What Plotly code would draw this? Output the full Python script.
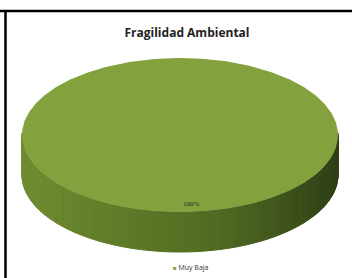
import numpy as np
import plotly.graph_objects as go

# ---- data ----
categories = ["Muy Baja"]
values = [100]
pct_labels = ["100%"]
colors = ["#83a13d"]

# ---- layout geometry (axis units == pixels) ----
W, H = 352, 278
CX, CY = 180, 135      # centre of the top face
RX, RY = 158, 77       # ellipse radii
DEPTH = 40             # thickness of the 3D disc


def mix(c1, c2, f):
    a = [int(c1[i:i + 2], 16) for i in (1, 3, 5)]
    b = [int(c2[i:i + 2], 16) for i in (1, 3, 5)]
    return "#" + "".join(f"{int(round(a[k] + (b[k] - a[k]) * f)):02x}" for k in range(3))


def pt(t, dy=0.0):
    return CX + RX * np.cos(t), CY - RY * np.sin(t) + dy


fig = go.Figure()

total = float(sum(values))
start = np.pi / 2
slices = []
for cat, v, col in zip(categories, values, colors):
    sweep = 2 * np.pi * v / total
    slices.append((cat, start, start - sweep, col))  # clockwise from 12 o'clock
    start -= sweep

# side walls (front half only), shaded left -> right
for cat, a0, a1, col in slices:
    ts = np.linspace(a0, a1, 241)
    for i in range(len(ts) - 1):
        tm = 0.5 * (ts[i] + ts[i + 1])
        if np.sin(tm) > 0.02:
            continue
        x0, y0 = pt(ts[i])
        x1, y1 = pt(ts[i + 1])
        f = (np.cos(tm) + 1) / 2  # 0 at left, 1 at right
        if f < 0.5:
            c = mix("#6f8c30", "#557124", f / 0.5)
        else:
            c = mix("#557124", "#2e3e15", ((f - 0.5) / 0.5) ** 1.3)
        fig.add_trace(go.Scatter(
            x=[x0, x1, x1, x0, x0], y=[y0, y1, y1 + DEPTH, y0 + DEPTH, y0],
            mode="lines", fill="toself", fillcolor=c,
            line=dict(color=c, width=1), showlegend=False, hoverinfo="skip"))

# top faces
for cat, a0, a1, col in slices:
    ts = np.linspace(a0, a1, 361)
    xs, ys = pt(ts)
    if abs(a0 - a1) < 2 * np.pi - 1e-9:
        xs = np.concatenate([[CX], xs, [CX]])
        ys = np.concatenate([[CY], ys, [CY]])
    fig.add_trace(go.Scatter(
        x=xs, y=ys, mode="lines", fill="toself", fillcolor=col,
        line=dict(color=col, width=0), name=cat, showlegend=False,
        hoverinfo="skip"))

# percentage labels
for (cat, a0, a1, col), lab in zip(slices, pct_labels):
    fig.add_annotation(x=191, y=204, text=lab, showarrow=False,
                       font=dict(family="Liberation Serif", size=7, color="#2a2a2a"))

# legend (bottom centre)
for cat, col in zip(categories, colors):
    fig.add_annotation(
        x=191, y=267, xanchor="center", yanchor="middle", showarrow=False,
        text=f"<span style='color:{col}; font-size:6px'>■</span> {cat}",
        font=dict(family="Open Sans", size=7, color="#333333"))

fig.update_layout(
    width=W, height=H,
    margin=dict(l=0, r=0, t=0, b=0),
    paper_bgcolor="#ffffff", plot_bgcolor="#ffffff",
    xaxis=dict(range=[0, W], visible=False, fixedrange=True),
    yaxis=dict(range=[H, 0], visible=False, fixedrange=True),
    title=dict(text="<b>Fragilidad Ambiental</b>", x=187 / W, xanchor="center",
               y=1 - 33 / H, yanchor="middle",
               font=dict(family="Open Sans", size=12, color="#222222")),
    showlegend=False,
    hovermode=False,
    shapes=[
        dict(type="line", xref="paper", yref="paper", x0=0, x1=1, y0=1 - 11 / H, y1=1 - 11 / H,
             line=dict(color="black", width=2.5)),
        dict(type="line", xref="paper", yref="paper", x0=5.5 / W, x1=5.5 / W, y0=0, y1=1 - 11 / H,
             line=dict(color="black", width=2.5)),
    ],
)

fig.write_html("out.html", config={"displayModeBar": False},
               post_script="document.body.style.margin='0';")
